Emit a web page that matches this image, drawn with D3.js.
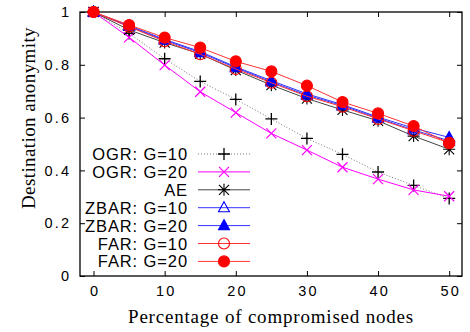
<!DOCTYPE html>
<html>
<head>
<meta charset="utf-8">
<script src="https://cdn.jsdelivr.net/npm/d3@7"></script>
<style>
  body { margin: 0; background: #fff; }
  .tick text { font-family: "Liberation Sans", Arial, sans-serif; font-size: 14.5px; letter-spacing: 2.2px; fill: #000; }
</style>
</head>
<body>
<script>
// data
const xs = [0, 5, 10, 15, 20, 25, 30, 35, 40, 45, 50];
const ogr10 = [1.0, 0.919, 0.823, 0.737, 0.669, 0.595, 0.521, 0.461, 0.394, 0.343, 0.294];
const ogr20 = [1.0, 0.904, 0.799, 0.698, 0.619, 0.540, 0.477, 0.412, 0.367, 0.326, 0.302];
const ae = [1.0, 0.932, 0.884, 0.841, 0.780, 0.723, 0.672, 0.629, 0.588, 0.530, 0.480];
const zbar10 = [1.0, 0.945, 0.893, 0.846, 0.789, 0.735, 0.685, 0.645, 0.598, 0.553, 0.512];
const zbar20 = [1.0, 0.948, 0.896, 0.850, 0.792, 0.740, 0.690, 0.649, 0.602, 0.560, 0.525];
const far10 = [1.0, 0.944, 0.889, 0.840, 0.784, 0.732, 0.681, 0.641, 0.595, 0.550, 0.505];
const far20 = [1.0, 0.951, 0.903, 0.865, 0.813, 0.775, 0.721, 0.659, 0.616, 0.568, 0.503];
const xTicks = [0, 10, 20, 30, 40, 50];
const yTicks = [0, 0.2, 0.4, 0.6, 0.8, 1];

const series = [
  { name: "OGR: G=10", values: ogr10, color: "#000", line: "#777", dash: "1,2", mark: "plus" },
  { name: "OGR: G=20", values: ogr20, color: "#ff00ff", line: "#ff00ff", dash: null, mark: "cross" },
  { name: "AE", values: ae, color: "#000", line: "#444", dash: null, mark: "star" },
  { name: "ZBAR: G=10", values: zbar10, color: "#0000ff", line: "#3333ff", dash: null, mark: "tri" },
  { name: "ZBAR: G=20", values: zbar20, color: "#0000ff", line: "#3333ff", dash: null, mark: "trifill" },
  { name: "FAR: G=10", values: far10, color: "#ff0000", line: "#ff3333", dash: null, mark: "circ" },
  { name: "FAR: G=20", values: far20, color: "#ff0000", line: "#ff3333", dash: null, mark: "circfill" }
];

const width = 470, height = 332;
const margin = { left: 80, right: 8, top: 12, bottom: 56 };

const svg = d3.select("body").append("svg")
    .attr("width", width)
    .attr("height", height);

const x = d3.scaleLinear().domain([-1.9, 51.8]).range([margin.left, width - margin.right]);
const y = d3.scaleLinear().domain([0, 1]).range([height - margin.bottom, margin.top]);

const tl = 5;
// axes, ticks inside and mirrored
svg.append("g")
    .attr("transform", `translate(0,${y(0)})`)
    .call(d3.axisBottom(x).tickValues(xTicks).tickSizeInner(-tl).tickSizeOuter(0).tickPadding(10));
svg.append("g")
    .attr("transform", `translate(${x.range()[0]},0)`)
    .call(d3.axisLeft(y).tickValues(yTicks).tickFormat(d3.format("~g")).tickSizeInner(-tl).tickSizeOuter(0).tickPadding(11));
svg.append("g")
    .attr("transform", `translate(0,${y(1)})`)
    .call(d3.axisTop(x).tickValues(xTicks).tickSizeInner(-tl).tickSizeOuter(0).tickFormat(""));
svg.append("g")
    .attr("transform", `translate(${x.range()[1]},0)`)
    .call(d3.axisRight(y).tickValues(yTicks).tickSizeInner(-tl).tickSizeOuter(0).tickFormat(""));
svg.selectAll(".domain").remove();
svg.selectAll(".tick line").attr("stroke", "#000");
// letter-spacing adds trailing space; shift to keep labels centred
svg.selectAll(".tick text").attr("dx", function () {
  return d3.select(this.parentNode.parentNode).attr("transform").startsWith("translate(0") ? "1.1px" : "2.2px";
});

svg.append("rect")
    .attr("x", x.range()[0]).attr("y", y(1))
    .attr("width", x.range()[1] - x.range()[0])
    .attr("height", y(0) - y(1))
    .attr("fill", "none").attr("stroke", "#000").attr("stroke-width", 1.3);

// axis titles
const titleFont = "19px 'Liberation Serif', 'Times New Roman', serif";
svg.append("text")
    .attr("x", 271).attr("y", 323)
    .attr("text-anchor", "middle")
    .style("font", titleFont)
    .style("letter-spacing", "0.8px")
    .text("Percentage of compromised nodes");
svg.append("text")
    .attr("transform", "translate(35,118) rotate(-90)")
    .attr("text-anchor", "middle")
    .style("font", titleFont)
    .style("letter-spacing", "0.4px")
    .text("Destination anonymity");

function drawMark(g, kind, color) {
  const s = 6;
  if (kind === "plus") {
    g.append("path").attr("d", `M${-s},0H${s}M0,${-s}V${s}`).attr("stroke", color).attr("stroke-width", 1.3);
  } else if (kind === "cross") {
    const c = 5;
    g.append("path").attr("d", `M${-c},${-c}L${c},${c}M${-c},${c}L${c},${-c}`).attr("stroke", color).attr("stroke-width", 1.2);
  } else if (kind === "star") {
    const c = 5;
    g.append("path").attr("d", `M${-s},0H${s}M0,${-s}V${s}M${-c},${-c}L${c},${c}M${-c},${c}L${c},${-c}`)
        .attr("stroke", color).attr("stroke-width", 1.1);
  } else if (kind === "tri" || kind === "trifill") {
    g.append("path").attr("d", "M0,-6L5.5,4L-5.5,4Z")
        .attr("fill", kind === "trifill" ? color : "none")
        .attr("stroke", color).attr("stroke-width", 1.1);
  } else {
    g.append("circle").attr("r", 5.5)
        .attr("fill", kind === "circfill" ? color : "none")
        .attr("stroke", color).attr("stroke-width", 1.1);
  }
}

const line = d3.line().x((d, i) => x(xs[i])).y(d => y(d));

series.forEach(s => {
  svg.append("path")
      .datum(s.values)
      .attr("d", line)
      .attr("fill", "none")
      .attr("stroke", s.line)
      .attr("stroke-width", 1)
      .attr("stroke-dasharray", s.dash);
  s.values.forEach((v, i) => {
    const g = svg.append("g").attr("transform", `translate(${x(xs[i])},${y(v)})`);
    drawMark(g, s.mark, s.color);
  });
});

// legend
const legend = svg.append("g");
series.forEach((s, i) => {
  const ly = 154 + i * 17.9;
  legend.append("text")
      .attr("x", 188).attr("y", ly + 6)
      .attr("text-anchor", "end")
      .style("font", "16.5px 'Liberation Sans', Arial, sans-serif")
      .style("letter-spacing", "0.9px")
      .text(s.name);
  legend.append("line")
      .attr("x1", 198).attr("x2", 250)
      .attr("y1", ly).attr("y2", ly)
      .attr("stroke", s.line).attr("stroke-width", 1)
      .attr("stroke-dasharray", s.dash);
  drawMark(legend.append("g").attr("transform", `translate(224,${ly})`), s.mark, s.color);
});
</script>
</body>
</html>
